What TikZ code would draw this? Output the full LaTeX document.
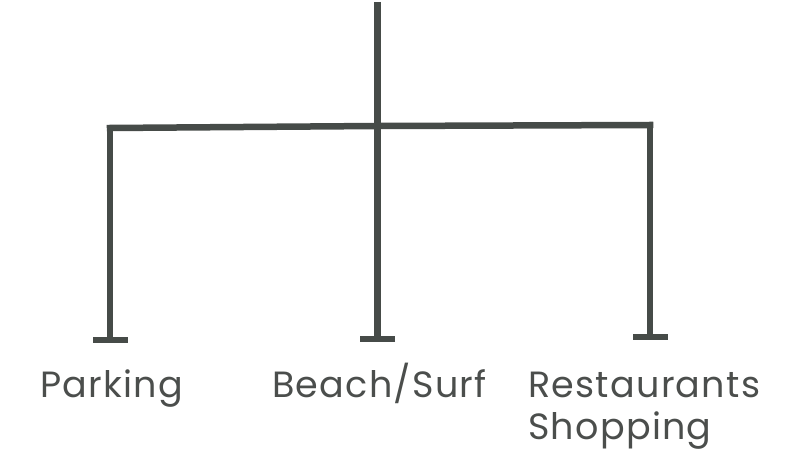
\documentclass[tikz,border=0pt]{standalone}
\usepackage{fontspec}
\setmainfont{Poppins}
\newfontfamily\lblfont[LetterSpace=3.5]{Poppins}
\usetikzlibrary{arrows.meta}
\definecolor{ink}{HTML}{464B48}
\definecolor{txt}{HTML}{4B4E4C}
\begin{document}
\begin{tikzpicture}[x=1pt,y=-1pt,
  wire/.style={draw=ink,line width=6.5pt},
  leaf/.style={wire,-{Bar[width=35pt,line width=6.5pt]}},
  lbl/.style={anchor=base west,inner sep=0pt,text=txt,font=\lblfont\fontsize{36.5}{42}\selectfont,align=left}]
\useasboundingbox (0,0) rectangle (794,470);
\coordinate (top) at (377.5,2);
\coordinate (hub) at (377.5,126);
\coordinate (lc) at (110,128);
\coordinate (rc) at (650,125);
\coordinate (lend) at (110,343);
\coordinate (mend) at (377.5,342);
\coordinate (rend) at (650,340);
\draw[wire] (top) -- (hub);
\draw[wire,line cap=rect] (lc) -- (hub) -- (rc);
\draw[leaf] (lc) -- (lend);
\draw[leaf] (hub) -- (mend);
\draw[leaf] (rc) -- (rend);
\node[lbl] (p) at (40,397) {Parking};
\node[lbl] (b) at (272,397) {Beach/Surf};
\node[lbl] (r) at (528,439) {Restaurants\\Shopping};
\end{tikzpicture}
\end{document}
